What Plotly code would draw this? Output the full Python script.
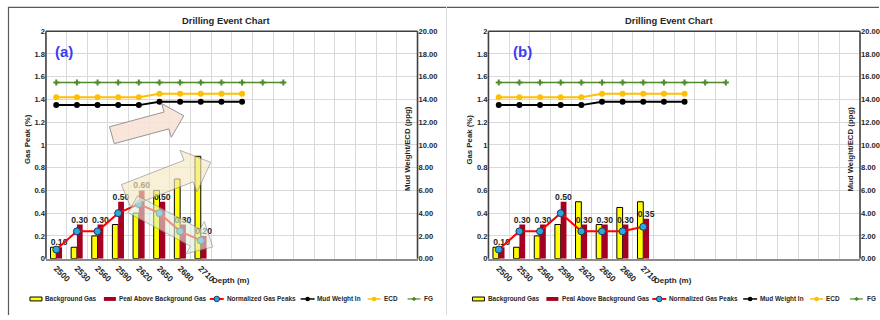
import math
import plotly.graph_objects as go

W, H = 880, 320

# ---------------- data ----------------
depth_labels = [2500, 2530, 2560, 2590, 2620, 2650, 2680, 2710]
line_depths = [2500, 2530, 2560, 2590, 2620, 2650, 2680, 2710, 2740, 2770]
fg_depths = [2500, 2530, 2560, 2590, 2620, 2650, 2680, 2710, 2740, 2770, 2800, 2830]

bg_gas_a = [0.10, 0.10, 0.20, 0.30, 0.40, 0.60, 0.70, 0.90]
peak_a = [0.10, 0.30, 0.30, 0.50, 0.60, 0.50, 0.30, 0.20]
norm_a = [0.08, 0.24, 0.24, 0.40, 0.48, 0.40, 0.24, 0.16]

bg_gas_b = [0.10, 0.10, 0.20, 0.30, 0.50, 0.30, 0.45, 0.50]
peak_b = [0.10, 0.30, 0.30, 0.50, 0.30, 0.30, 0.30, 0.35]
norm_b = [0.08, 0.24, 0.24, 0.40, 0.24, 0.24, 0.24, 0.28]

mud_weight = [13.5, 13.5, 13.5, 13.5, 13.5, 13.8, 13.8, 13.8, 13.8, 13.8]
ecd = [14.2, 14.2, 14.2, 14.2, 14.2, 14.5, 14.5, 14.5, 14.5, 14.5]
fg = [15.5, 15.5, 15.5, 15.5, 15.5, 15.5, 15.5, 15.5, 15.5, 15.5, 15.5, 15.5]

series_names = ["Background Gas", "Peal Above Background Gas", "Normalized Gas Peaks",
                "Mud Weight In", "ECD", "FG"]
panel_tags = ["(a)", "(b)"]

# ---------------- style ----------------
FONT = "Liberation Sans, Arial, sans-serif"
YEL = "#FFFF00"
RED_BAR = "#A50021"
RED_LINE = "#FF0000"
CYAN = "#2AA8DC"
ORANGE = "#FFC000"
GREEN = "#4F8A2B"
GRID = "#D9D9D9"
DARK = "#404040"
TXT = "#262626"


def X(p):
    return p / W


def Y(p):
    return 1 - p / H


fig = go.Figure()

panels = [
    dict(off=0, bg=bg_gas_a, pk=peak_a, nm=norm_a, xa="x", ya="y", yb="y2", tagx=64),
    dict(off=443, bg=bg_gas_b, pk=peak_b, nm=norm_b, xa="x2", ya="y3", yb="y4", tagx=523.5),
]

for p in panels:
    fig.add_trace(go.Bar(x=depth_labels, y=p["bg"], name=series_names[0], xaxis=p["xa"], yaxis=p["ya"],
                         marker=dict(color=YEL, line=dict(color="#000000", width=1)), showlegend=False,
                         offsetgroup="bg"))
    fig.add_trace(go.Bar(x=depth_labels, y=p["pk"], name=series_names[1], xaxis=p["xa"], yaxis=p["ya"],
                         marker=dict(color=RED_BAR, line=dict(width=0)), showlegend=False,
                         offsetgroup="pk",
                         texttemplate="%{y:.2f}", textposition="outside", constraintext="none",
                         cliponaxis=False,
                         textfont=dict(family=FONT, size=8.6, color=TXT, weight="bold")))
    fig.add_trace(go.Scatter(x=depth_labels, y=p["nm"], name=series_names[2], xaxis=p["xa"], yaxis=p["ya"],
                             mode="lines+markers", line=dict(color=RED_LINE, width=2),
                             marker=dict(size=7, color=CYAN, line=dict(color="#1F3864", width=1)),
                             showlegend=False))
    fig.add_trace(go.Scatter(x=line_depths, y=mud_weight, name=series_names[3], xaxis=p["xa"], yaxis=p["yb"],
                             mode="lines+markers", line=dict(color="#000000", width=2),
                             marker=dict(size=6, color="#000000"), showlegend=False))
    fig.add_trace(go.Scatter(x=line_depths, y=ecd, name=series_names[4], xaxis=p["xa"], yaxis=p["yb"],
                             mode="lines+markers", line=dict(color=ORANGE, width=2),
                             marker=dict(size=6, color=ORANGE), showlegend=False))
    fig.add_trace(go.Scatter(x=fg_depths, y=fg, name=series_names[5], xaxis=p["xa"], yaxis=p["yb"],
                             mode="lines+markers", line=dict(color=GREEN, width=1.5),
                             marker=dict(size=5, color=GREEN, symbol="cross"), showlegend=False))

ytickfont = dict(family=FONT, size=7.6, color=TXT, weight="bold")
xtickfont = dict(family=FONT, size=8.4, color=TXT, weight="bold")
boundaries = [2485 + 30 * i for i in range(19)]

layout_axes = {}
for i, p in enumerate(panels):
    off = p["off"]
    xd = [X(46 + off), X(418 + off)]
    yd = [Y(262), Y(28)]
    xk = "xaxis" if i == 0 else "xaxis2"
    yk = "yaxis" if i == 0 else "yaxis3"
    yk2 = "yaxis2" if i == 0 else "yaxis4"
    layout_axes[xk] = dict(domain=xd, range=[2485, 3025], tickmode="array", tickvals=depth_labels,
                           tickangle=45, tickfont=xtickfont, showgrid=False, zeroline=False,
                           showline=True, linecolor="#8C8C8C", linewidth=1.5, ticks="",
                           anchor=p["ya"],
                           minor=dict(tickmode="array", tickvals=boundaries, showgrid=True,
                                      gridcolor=GRID, gridwidth=1, ticks=""))
    layout_axes[yk] = dict(domain=yd, range=[0, 2], dtick=0.2, tick0=0, tickfont=ytickfont,
                           showgrid=True, gridcolor=GRID, gridwidth=1, zeroline=False,
                           showline=False, anchor=p["xa"], ticks="")
    layout_axes[yk2] = dict(range=[0, 20], dtick=2, tick0=0, tickformat=".2f", tickfont=ytickfont,
                            overlaying=p["ya"], side="right", anchor=p["xa"], showgrid=False,
                            zeroline=False, showline=False, ticks="")

shapes = []
annotations = []


def line(x0, y0, x1, y1, color, width):
    shapes.append(dict(type="line", xref="paper", yref="paper", x0=X(x0), y0=Y(y0), x1=X(x1), y1=Y(y1),
                       line=dict(color=color, width=width), layer="above"))


def rect(x0, y0, x1, y1, fill, lc, lw):
    shapes.append(dict(type="rect", xref="paper", yref="paper", x0=X(x0), y0=Y(y0), x1=X(x1), y1=Y(y1),
                       fillcolor=fill, line=dict(color=lc, width=lw), layer="above"))


def circle(cx, cy, r, fill, lc, lw):
    shapes.append(dict(type="circle", xref="paper", yref="paper", x0=X(cx - r), y0=Y(cy + r),
                       x1=X(cx + r), y1=Y(cy - r), fillcolor=fill, line=dict(color=lc, width=lw),
                       layer="above"))


def text(x, y, s, size, color=TXT, bold=True, xanchor="center", angle=0):
    annotations.append(dict(x=X(x), y=Y(y), xref="paper", yref="paper", text=s, showarrow=False,
                            xanchor=xanchor, yanchor="middle", textangle=angle,
                            font=dict(family=FONT, size=size, color=color,
                                      weight="bold" if bold else "normal")))


def arrow(tail, tip, w, hw, hl, fill, opacity):
    x0, y0 = tail
    x1, y1 = tip
    dx, dy = x1 - x0, y1 - y0
    L = math.hypot(dx, dy)
    ux, uy = dx / L, dy / L
    vx, vy = -uy, ux
    loc = [(0, -w), (L - hl, -w), (L - hl, -hw), (L, 0), (L - hl, hw), (L - hl, w), (0, w)]
    pts = [(x0 + ux * a + vx * b, y0 + uy * a + vy * b) for a, b in loc]
    path = "M " + " L ".join(f"{X(px):.5f},{Y(py):.5f}" for px, py in pts) + " Z"
    shapes.append(dict(type="path", xref="paper", yref="paper", path=path, fillcolor=fill,
                       line=dict(color="#8C8C8C", width=1), opacity=opacity, layer="above"))


# outer frames
line(8, 3.5, 880, 3.5, "#595959", 1.2)
line(8.5, 3, 8.5, 320, "#595959", 1.2)
line(447, 3, 447, 320, "#D9D9D9", 1)

for i, p in enumerate(panels):
    off = p["off"]
    # plot area border (left, top, right dark)
    line(46 + off, 262, 46 + off, 28, DARK, 1.6)
    line(46 + off, 28, 418 + off, 28, DARK, 1.6)
    line(418 + off, 28, 418 + off, 262, DARK, 1.6)
    # titles
    text(226.5 + off, 17, "Drilling Event Chart", 9.4)
    text(p["tagx"], 49, panel_tags[i], 15, color="#3B3BF0")
    text(27 + off, 139, "Gas Peak (%)", 7.8, angle=-90)
    text(408.7 + off, 149, "Mud Weight/ECD (ppg)", 7.8, angle=-90)
    text(210 + off, 285, "Depth (m)", 8, xanchor="left")
    # legend
    ly = 303.5
    fs = 6.4
    rect(30 + off, 301.5, 42 + off, 305.5, YEL, "#000000", 1)
    text(43.5 + off, ly, series_names[0], fs, xanchor="left")
    rect(104 + off, 301.5, 116 + off, 305.5, RED_BAR, RED_BAR, 0)
    text(117.5 + off, ly, series_names[1], fs, xanchor="left")
    line(210 + off, ly, 224 + off, ly, RED_LINE, 2)
    circle(217 + off, ly, 2.8, CYAN, "#1F3864", 1)
    text(225 + off, ly, series_names[2], fs, xanchor="left")
    line(301 + off, ly, 315 + off, ly, "#000000", 1.5)
    circle(308 + off, ly, 2.3, "#000000", "#000000", 0)
    text(315.5 + off, ly, series_names[3], fs, xanchor="left")
    line(368 + off, ly, 381 + off, ly, ORANGE, 1.5)
    circle(374.5 + off, ly, 2.3, ORANGE, ORANGE, 0)
    text(382 + off, ly, series_names[4], fs, xanchor="left")
    line(408 + off, ly, 421 + off, ly, GREEN, 1.2)
    line(412.5 + off, ly, 416.5 + off, ly, GREEN, 2)
    line(414.5 + off, ly - 2, 414.5 + off, ly + 2, GREEN, 1.5)
    text(422.5 + off, ly, series_names[5], fs, xanchor="left")

# decorative arrows on panel (a)
arrow((112, 135), (184, 115), 9, 18, 18, "#F9E3D6", 0.9)
arrow((126, 197), (211, 163), 12, 23, 24, "#F7EAC2", 0.65)
arrow((133, 206), (213, 250), 10, 19, 20, "#E2EFD9", 0.6)

fig.update_layout(
    width=W, height=H, margin=dict(l=0, r=0, t=0, b=0),
    paper_bgcolor="#FFFFFF", plot_bgcolor="rgba(0,0,0,0)",
    barmode="group", bargap=0.44, bargroupgap=0,
    showlegend=False, shapes=shapes, annotations=annotations,
    font=dict(family=FONT, color=TXT),
    **layout_axes,
)

fig.write_html("out.html", config={"displayModeBar": False},
               post_script="document.body.style.margin='0px';")
